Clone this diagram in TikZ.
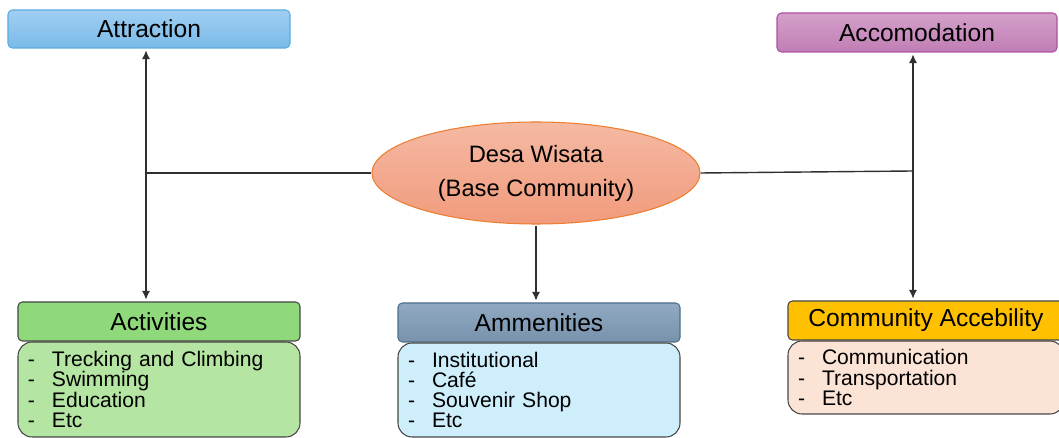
\documentclass[tikz,border=0pt]{standalone}
\usepackage{fontspec}
\setmainfont{Liberation Sans}
\usepackage{tikz}
\usetikzlibrary{arrows.meta,shapes,calc,positioning}
\definecolor{lineaGris}{RGB}{48, 48, 48}
\definecolor{bordeGris}{RGB}{70, 70, 70}
\definecolor{cieloClaro}{RGB}{160, 207, 242}
\definecolor{cieloOscuro}{RGB}{122, 186, 232}
\definecolor{cieloBorde}{RGB}{92, 172, 224}
\definecolor{malvaClaro}{RGB}{212, 160, 202}
\definecolor{malvaOscuro}{RGB}{192, 126, 180}
\definecolor{malvaBorde}{RGB}{176, 80, 160}
\definecolor{salmonClaro}{RGB}{245, 185, 163}
\definecolor{salmonOscuro}{RGB}{241, 155, 124}
\definecolor{naranja}{RGB}{237, 125, 49}
\definecolor{verde}{RGB}{143, 217, 122}
\definecolor{verdeClaro}{RGB}{181, 229, 162}
\definecolor{aceroClaro}{RGB}{145, 170, 194}
\definecolor{aceroOscuro}{RGB}{120, 146, 172}
\definecolor{aceroBorde}{RGB}{78, 111, 140}
\definecolor{celeste}{RGB}{205, 238, 250}
\definecolor{oro}{RGB}{255, 192, 0}
\definecolor{durazno}{RGB}{251, 227, 214}
\tikzstyle{edge}  =[draw=lineaGris, line width=0.8pt]
\tikzstyle{aedge} =[edge, >={Latex[length=5pt,width=4.6pt]},
                    shorten <=1pt, shorten >=1pt]
\tikzstyle{head}  =[rectangle, rounded corners=2.5pt, minimum width=5.64cm,
                    minimum height=0.78cm, line width=0.6pt, inner sep=0pt,
                    font=\fontsize{14}{17}\selectfont]
\tikzstyle{body}  =[rectangle, rounded corners=8pt, minimum width=5.64cm,
                    line width=0.6pt, draw=bordeGris, text width=5.24cm,
                    align=left, inner xsep=0.2cm, inner ysep=0pt,
                    font=\fontsize{12}{11.5}\selectfont]
\tikzstyle{base}  =[ellipse, minimum width=6.56cm, minimum height=2.04cm,
                    inner sep=0pt, draw=naranja, line width=0.6pt,
                    top color=salmonClaro, bottom color=salmonOscuro,
                    align=center, font=\fontsize{13.5}{19.3}\selectfont]
\newcommand{\guion}{\makebox[0.48cm][l]{-}}

\begin{document}
\begin{tikzpicture}
    \useasboundingbox (0,0) rectangle (21.18,-8.76);

    % top boxes and centre
    \draw (2.98,-0.58) node(attr)[head,draw=cieloBorde,top color=cieloClaro,
        bottom color=cieloOscuro,minimum height=0.76cm]{Attraction};
    \draw (18.34,-0.65) node(acco)[head,draw=malvaBorde,top color=malvaClaro,
        bottom color=malvaOscuro,minimum width=5.6cm]{Accomodation};
    \draw (10.72,-3.46) node(desa)[base]{Desa Wisata\\(Base Community)};

    % bottom boxes
    \draw (3.18,-6.43) node(acti)[head,draw=bordeGris,fill=verde]{Activities};
    \draw (3.18,-7.79) node(actb)[body,fill=verdeClaro,minimum height=1.9cm]
        {\guion Trecking and Climbing\\\guion Swimming\\\guion Education\\\guion Etc};

    \draw (10.78,-6.45) node(amme)[head,draw=aceroBorde,top color=aceroClaro,
        bottom color=aceroOscuro]{Ammenities};
    \draw (10.78,-7.8) node(ammb)[body,fill=celeste,minimum height=1.88cm]
        {\guion Institutional\\\guion Café\\\guion Souvenir Shop\\\guion Etc};

    \draw (18.52,-6.41) node(comm)[head,draw=bordeGris,fill=oro,
        minimum width=5.52cm]{Community Accebility};
    \draw (18.52,-7.55) node(comb)[body,fill=durazno,minimum height=1.46cm,
        minimum width=5.52cm,text width=5.12cm]
        {\guion Communication\\\guion Transportation\\\guion Etc};

    % connectors
    \coordinate (jl) at (2.92,-3.46);
    \coordinate (jr) at (18.26,-3.42);
    \draw [edge] (desa.west) -- (jl);
    \draw [edge] (desa.east) -- (jr);
    \draw [aedge,<->] (attr.south -| jl) -- (acti.north -| jl);
    \draw [aedge,<->] (acco.south -| jr) -- (comm.north -| jr);
    \draw [aedge,->] (desa.south) -- (desa.south |- amme.north);
\end{tikzpicture}
\end{document}
